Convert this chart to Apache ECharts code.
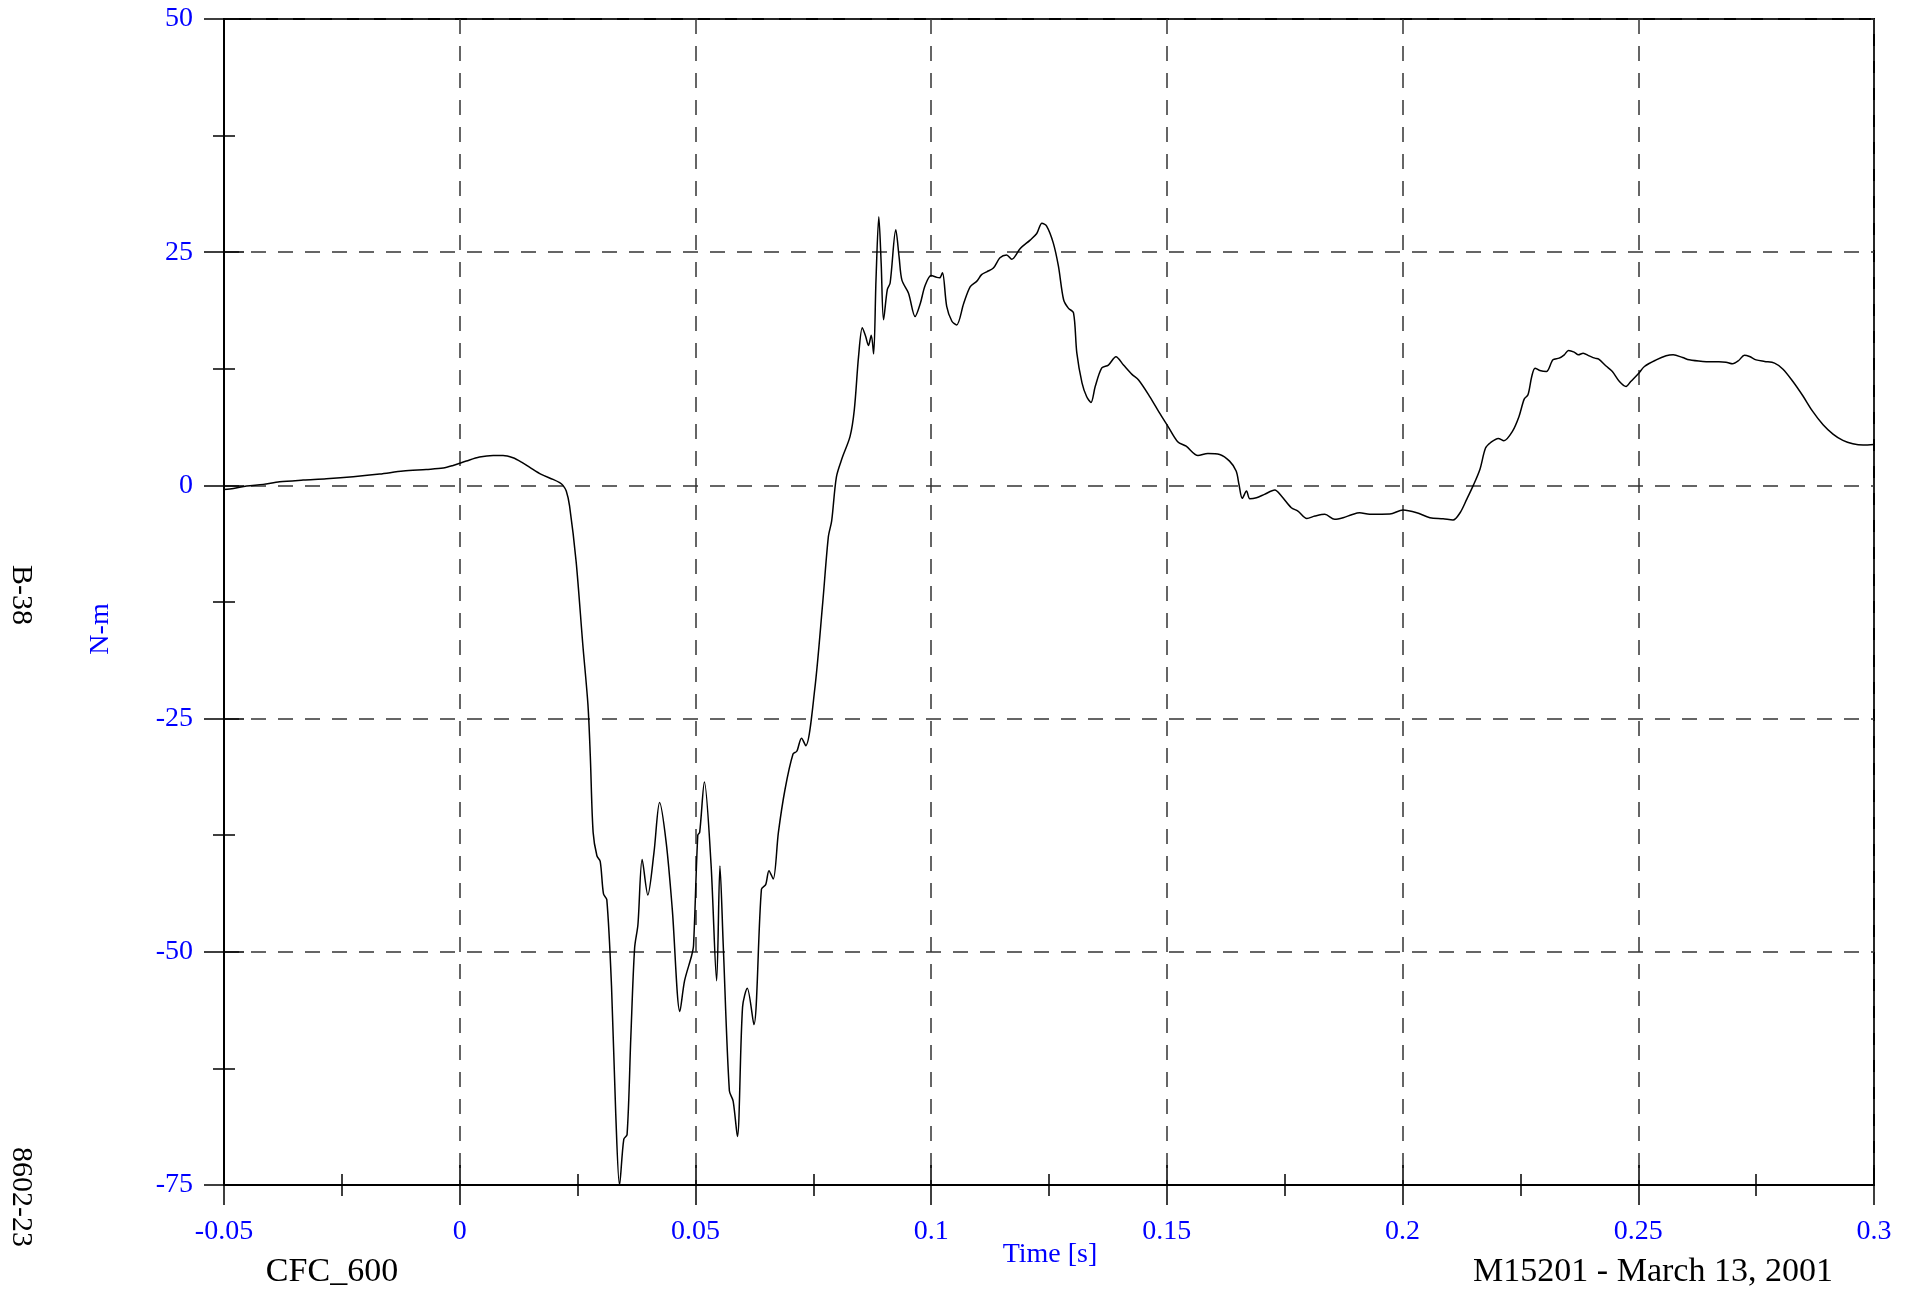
<!DOCTYPE html>
<html>
<head>
<meta charset="utf-8">
<script src="https://cdn.jsdelivr.net/npm/echarts@6/dist/echarts.min.js"></script>
<style>
html, body { margin: 0; padding: 0; background: #fff; }
#chart { width: 1916px; height: 1294px; }
</style>
</head>
<body>
<div id="chart"></div>
<script>
// time [s], moment [N-m]
var preImpact = [
    [-0.0500, -0.43], [-0.0480, -0.32], [-0.0452, -0.07], [-0.0417, 0.11], [-0.0382, 0.39],
    [-0.0332, 0.57], [-0.0283, 0.71], [-0.0226, 0.93], [-0.0170, 1.21], [-0.0120, 1.54],
    [-0.0071, 1.71], [-0.0035, 1.86], [-0.0014, 2.14], [0.0014, 2.61], [0.0042, 3.04],
    [0.0071, 3.21], [0.0092, 3.21], [0.0113, 2.96], [0.0131, 2.5], [0.0148, 1.96],
    [0.0173, 1.18], [0.0198, 0.64], [0.0212, 0.29], [0.0219, 0.0], [0.0226, -0.61]
];
var impact = [
    [0.0233, -2.2], [0.0247, -8.2], [0.0261, -17], [0.0272, -23.5], [0.0277, -29],
    [0.0283, -37.2], [0.0291, -39.7], [0.0298, -40.3], [0.0305, -43.8], [0.0312, -44.4],
    [0.0322, -53.7], [0.0331, -67.4], [0.0339, -75], [0.0348, -70.1], [0.0355, -69.6],
    [0.0363, -59.1], [0.0371, -49.6], [0.0378, -47.1], [0.0387, -40.1], [0.0399, -43.9],
    [0.0412, -39.4], [0.0424, -34], [0.0438, -38.3], [0.0451, -45.5], [0.0467, -56.4],
    [0.0477, -53.1], [0.0492, -50.4], [0.0496, -49.3], [0.0505, -37.5], [0.0509, -37.2],
    [0.0519, -31.8], [0.0533, -40.5], [0.0545, -53.1], [0.0552, -40.8], [0.0559, -49.3],
    [0.0572, -64.9], [0.0580, -66], [0.0589, -69.8], [0.0600, -55.9], [0.0610, -53.9],
    [0.0624, -57.8], [0.0640, -43.3], [0.0649, -42.8], [0.0656, -41.3], [0.0665, -42.2],
    [0.0676, -37.2], [0.0690, -32.6], [0.0707, -28.8], [0.0715, -28.5], [0.0725, -27.1],
    [0.0734, -27.9], [0.0753, -21.9], [0.0770, -12.6], [0.0782, -5.5], [0.0789, -3.8],
    [0.0799, 0.9]
];
var rebound = [
    [0.0811, 2.9], [0.0828, 5.25], [0.0837, 8.1], [0.0846, 13.8], [0.0854, 16.9],
    [0.0861, 16.0], [0.0867, 15.0], [0.0873, 16.1], [0.0878, 14.1], [0.0883, 22.0],
    [0.0889, 28.8], [0.0894, 23.8], [0.0899, 17.75], [0.0907, 21], [0.0913, 21.7],
    [0.0925, 27.4], [0.0932, 24.5], [0.0938, 22.0], [0.0952, 20.6], [0.0966, 18.1],
    [0.0977, 19.5], [0.0987, 21.4], [0.1000, 22.5], [0.1012, 22.3], [0.1018, 22.25],
    [0.1024, 22.8], [0.1033, 19.2], [0.1044, 17.6], [0.1054, 17.2], [0.1069, 19.5],
    [0.1083, 21.3], [0.1097, 21.9], [0.1107, 22.6], [0.1118, 22.9], [0.1132, 23.3],
    [0.1146, 24.4], [0.1160, 24.7], [0.1171, 24.25], [0.1189, 25.4], [0.1210, 26.3],
    [0.1224, 27.0], [0.1235, 28.1], [0.1245, 27.8], [0.1259, 26.0], [0.1270, 23.5],
    [0.1281, 19.9], [0.1291, 19.0], [0.1302, 18.5], [0.1309, 14.2], [0.1320, 11.0],
    [0.1330, 9.5], [0.1339, 8.9], [0.1348, 10.6], [0.1362, 12.6], [0.1376, 12.9],
    [0.1392, 13.8], [0.1408, 12.9], [0.1426, 11.9], [0.1440, 11.3], [0.1464, 9.5],
    [0.1484, 7.8], [0.1502, 6.36], [0.1523, 4.68], [0.1541, 4.2]
];
var settle = [
    [0.1566, 3.2], [0.1587, 3.43], [0.1612, 3.32], [0.1633, 2.6], [0.1647, 1.54],
    [0.1653, 0.1], [0.1660, -1.39], [0.1669, -0.61], [0.1676, -1.43], [0.1690, -1.32],
    [0.1707, -0.96], [0.1729, -0.5], [0.1743, -1.14], [0.1764, -2.39], [0.1778, -2.75],
    [0.1797, -3.54], [0.1814, -3.29], [0.1835, -3.1], [0.1856, -3.64], [0.1874, -3.46],
    [0.1892, -3.14], [0.1909, -2.93], [0.1930, -3.1], [0.1973, -3.07], [0.2001, -2.64],
    [0.2030, -2.93], [0.2058, -3.46], [0.2086, -3.57], [0.2107, -3.71], [0.2122, -2.93],
    [0.2136, -1.5], [0.2150, 0]
];
var tail = [
    [0.2164, 1.71], [0.2176, 4.0], [0.2187, 4.6], [0.2203, 5.04], [0.2215, 4.79],
    [0.2233, 5.79], [0.2247, 7.39], [0.2258, 9.25], [0.2266, 9.71], [0.2274, 11.68],
    [0.2281, 12.57], [0.2291, 12.32], [0.2305, 12.21], [0.2319, 13.46], [0.2332, 13.64],
    [0.2343, 14.0], [0.2352, 14.46], [0.2364, 14.29], [0.2373, 14.0], [0.2383, 14.18],
    [0.2396, 13.89], [0.2408, 13.64], [0.2416, 13.54], [0.2431, 12.82], [0.2445, 12.21],
    [0.2460, 11.14], [0.2474, 10.61], [0.2484, 11.14], [0.2500, 11.96], [0.2513, 12.75],
    [0.2538, 13.46], [0.2559, 13.89], [0.2574, 14.0], [0.2594, 13.71], [0.2608, 13.46],
    [0.2637, 13.29], [0.2665, 13.25], [0.2686, 13.21], [0.2700, 13.04], [0.2713, 13.39],
    [0.2725, 13.96], [0.2736, 13.82], [0.2750, 13.46], [0.2768, 13.29], [0.2789, 13.11],
    [0.2807, 12.46], [0.2828, 11.14], [0.2849, 9.61], [0.2870, 7.93], [0.2892, 6.5],
    [0.2913, 5.5], [0.2934, 4.82], [0.2955, 4.46], [0.2977, 4.32], [0.3000, 4.39]
];

var curve = preImpact.concat(impact, rebound, settle, tail);

var serif = "'Liberation Serif', 'Times New Roman', serif";
var blue = '#0000ff';
var gridBox = { left: 224, top: 19, width: 1650, height: 1166 };

var myChart = echarts.init(document.getElementById('chart'));

var tickLine = { color: '#000', width: 1.5 };
var xBase = {
    type: 'value', min: -0.05, max: 0.3, interval: 0.05,
    axisLine: { show: true, onZero: false, lineStyle: { color: '#000', width: 2 } },
    minorTick: { show: true, splitNumber: 2, length: 11, lineStyle: tickLine },
    axisTick: { show: true, length: 20, lineStyle: tickLine }
};
var yBase = {
    type: 'value', min: -75, max: 50, interval: 25,
    axisLine: { show: true, onZero: false, lineStyle: { color: '#000', width: 2 } },
    minorTick: { show: true, splitNumber: 2, length: 11, lineStyle: tickLine },
    axisTick: { show: true, length: 20, lineStyle: tickLine }
};
var dash = { show: true, lineStyle: { color: '#333', width: 1.5, type: [15, 12] } };
// second, invisible grid carries the inward half of every tick
var innerAxis = {
    axisLine: { show: false, onZero: false },
    axisTick: { show: true, inside: true, length: 20, lineStyle: tickLine },
    minorTick: { show: true, splitNumber: 2, length: 11, lineStyle: tickLine },
    splitLine: { show: false },
    axisLabel: { show: false }
};

myChart.setOption({
    animation: false,
    backgroundColor: '#fff',
    grid: [
        Object.assign({ show: true, borderColor: '#000', borderWidth: 2 }, gridBox),
        Object.assign({ show: false }, gridBox)
    ],
    xAxis: [
        Object.assign({}, xBase, {
            gridIndex: 0,
            splitLine: dash,
            axisLabel: { color: blue, fontFamily: serif, fontSize: 28, margin: 33 }
        }),
        Object.assign({}, xBase, innerAxis, { gridIndex: 1 })
    ],
    yAxis: [
        Object.assign({}, yBase, {
            gridIndex: 0,
            splitLine: dash,
            axisLabel: { color: blue, fontFamily: serif, fontSize: 28, margin: 31 }
        }),
        Object.assign({}, yBase, innerAxis, { gridIndex: 1 })
    ],
    series: [{
        type: 'line',
        xAxisIndex: 0,
        yAxisIndex: 0,
        data: curve,
        showSymbol: false,
        smooth: 0.3,
        lineStyle: { color: '#000', width: 1.5 }
    }],
    graphic: [
        { type: 'text', x: 1050, y: 1255, style: { text: 'Time [s]', fill: blue, font: '28px ' + serif, textAlign: 'center', textVerticalAlign: 'middle' } },
        { type: 'text', x: 101, y: 629, rotation: Math.PI / 2, style: { text: 'N-m', fill: blue, font: '28px ' + serif, textAlign: 'center', textVerticalAlign: 'middle' } },
        { type: 'text', x: 332, y: 1272, style: { text: 'CFC_600', fill: '#000', font: '34px ' + serif, textAlign: 'center', textVerticalAlign: 'middle' } },
        { type: 'text', x: 1653, y: 1272, style: { text: 'M15201 - March 13, 2001', fill: '#000', font: '34px ' + serif, textAlign: 'center', textVerticalAlign: 'middle' } },
        { type: 'text', x: 21, y: 595, rotation: -Math.PI / 2, style: { text: 'B-38', fill: '#000', font: '30px ' + serif, textAlign: 'center', textVerticalAlign: 'middle' } },
        { type: 'text', x: 21, y: 1197, rotation: -Math.PI / 2, style: { text: '8602-23', fill: '#000', font: '30px ' + serif, textAlign: 'center', textVerticalAlign: 'middle' } }
    ]
});
</script>
</body>
</html>
